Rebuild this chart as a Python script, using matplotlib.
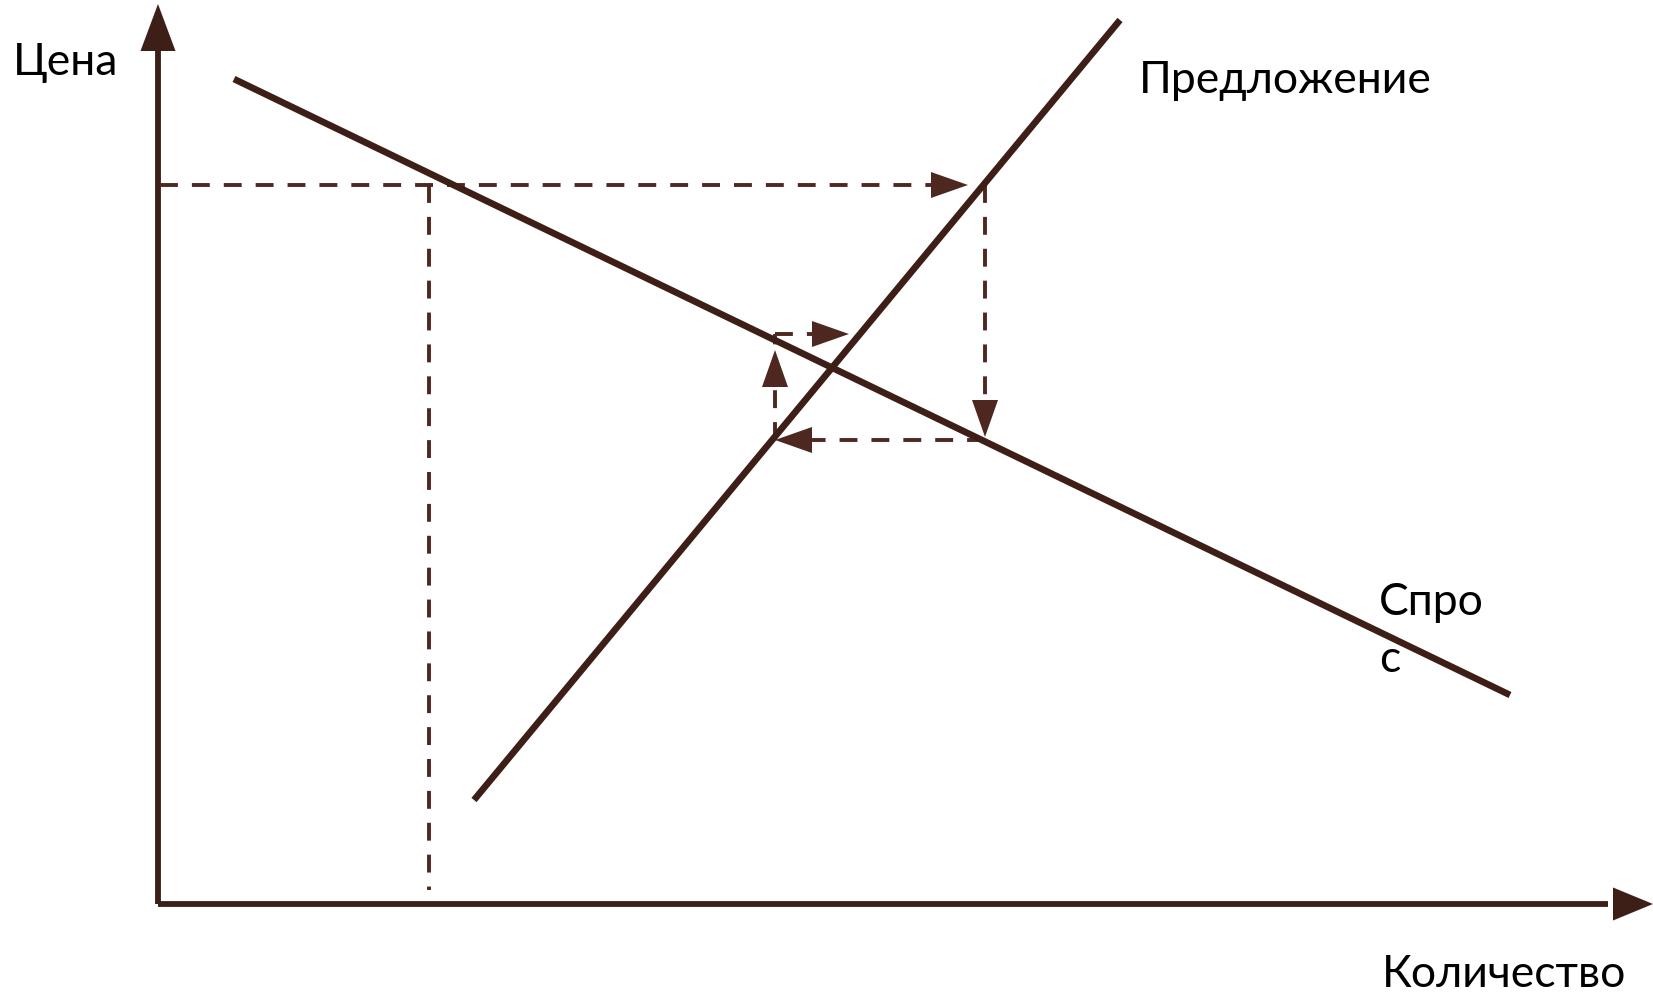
import numpy as np
import matplotlib.pyplot as plt

# coordinates in chart units (origin = axes corner)
demand_q = [7.6, 135.2]
demand_p = [82.5, 20.9]
supply_q = [31.6, 96.2]
supply_p = [10.4, 88.4]

p_high = 71.9
p_low = 46.4
p_up = 57.0
q_demand_high = 27.1
q_supply_high = 82.7
q_supply_low = 61.7
q_up_end = 69.1
q_high_arrow = 81.0

line_col = '#3d1f17'
dash_col = '#4e2820'
plt.rcParams['font.family'] = ['Lato', 'DejaVu Sans']


def head(ax, tip, direction, length=3.7, half=1.3, color=dash_col):
    # filled triangle arrow head
    tip = np.array(tip, dtype=float)
    d = np.array(direction, dtype=float)
    d = d / np.hypot(*d)
    n = np.array([-d[1], d[0]])
    base = tip - d * length
    pts = np.array([tip, base + n * half, base - n * half])
    ax.fill(pts[:, 0], pts[:, 1], color=color, lw=0, zorder=4)


fig = plt.figure(figsize=(16.53, 9.95), dpi=100)
ax = fig.add_axes([0, 0, 1, 1])
ax.set_xlim(-15.8, 149.5)
ax.set_ylim(-9.0, 90.5)
ax.axis('off')

# axes with arrows
ax.plot([0, 0], [0, 86.0], color=line_col, lw=4.2, solid_capstyle='butt')
ax.plot([0, 145.0], [0, 0], color=line_col, lw=4.2, solid_capstyle='butt')
head(ax, (0, 90.0), (0, 1), length=4.7, half=1.75, color=line_col)
head(ax, (149.5, 0), (1, 0), length=4.0, half=1.65, color=line_col)

# demand and supply
ax.plot(demand_q, demand_p, color=line_col, lw=4.8, solid_capstyle='butt', zorder=3)
ax.plot(supply_q, supply_p, color=line_col, lw=4.8, solid_capstyle='butt', zorder=3)

dash = dict(color=dash_col, lw=2.8, dashes=(4.6, 3.6), zorder=2)
# high price: surplus
ax.plot([0.2, q_high_arrow - 3.5], [p_high, p_high], **dash)
head(ax, (q_high_arrow, p_high), (1, 0))
ax.plot([q_demand_high, q_demand_high], [p_high, 1.4], **dash)
ax.plot([q_supply_high, q_supply_high], [p_high, p_low + 3.7], **dash)
head(ax, (q_supply_high, p_low + 0.3), (0, -1))
# low price: shortage
ax.plot([q_supply_high, q_supply_low + 3.5], [p_low, p_low], **dash)
head(ax, (q_supply_low, p_low), (-1, 0))
ax.plot([q_supply_low, q_supply_low], [p_low, p_up], **dash)
head(ax, (q_supply_low, p_up - 1.6), (0, 1))
ax.plot([q_supply_low, q_up_end - 3.5], [p_up, p_up], **dash)
head(ax, (q_up_end, p_up), (1, 0))

fs = 32
ax.text(-14.5, 83.0, 'Цена', fontsize=fs, va='baseline', ha='left', color='black')
ax.text(98.1, 81.2, 'Предложение', fontsize=fs, va='baseline', ha='left', color='black')
ax.text(122.1, 29.0, 'Спро', fontsize=fs, va='baseline', ha='left', color='black')
ax.text(122.1, 23.3, 'с', fontsize=fs, va='baseline', ha='left', color='black')
ax.text(122.4, -8.2, 'Количество', fontsize=fs, va='baseline', ha='left', color='black')

fig.savefig('out.png', dpi=100)
